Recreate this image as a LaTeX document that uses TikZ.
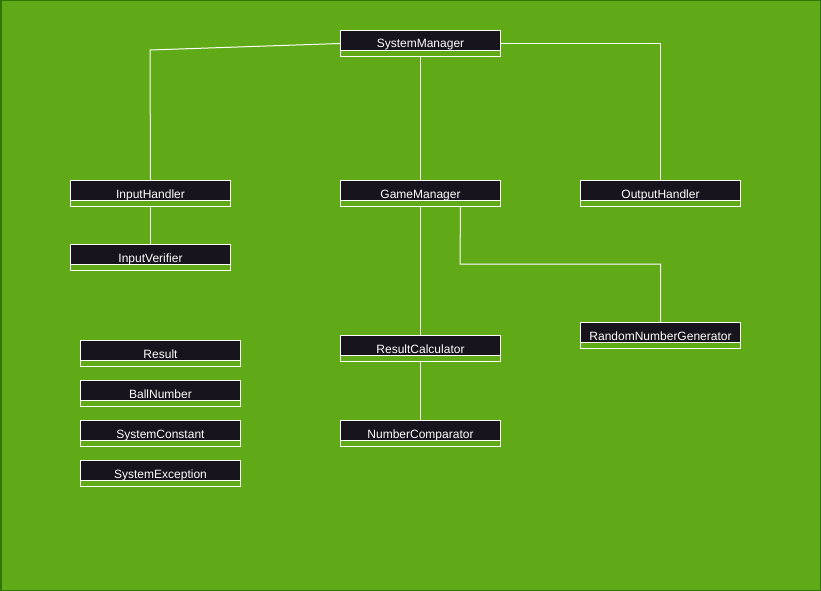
\documentclass[tikz,border=0pt]{standalone}
\usepackage{fontspec}
\setmainfont{Liberation Sans}
\usepackage{tikz}
\usetikzlibrary{positioning,calc}
\definecolor{diagramgreen}{HTML}{60A917}
\definecolor{diagramedge}{HTML}{2D7600}
\definecolor{headerdark}{HTML}{18141D}

\tikzset{
  classbox/.style={rectangle, draw=white, fill=diagramgreen, line width=1pt,
    minimum width=160pt, minimum height=26pt, inner sep=0pt, anchor=north west,
    text=white, font=\fontsize{12}{14}\selectfont, text height=9pt, text depth=0pt,
    path picture={
      \fill[headerdark] (path picture bounding box.north west) rectangle ([yshift=6pt]path picture bounding box.south east);
      \draw[white, line width=1pt] ([yshift=6pt]path picture bounding box.south west) -- ([yshift=6pt]path picture bounding box.south east);
    }},
  link/.style={draw=white, line width=1pt}
}

\begin{document}
\begin{tikzpicture}[x=1pt, y=-1pt]
  \useasboundingbox (0,0) rectangle (821,591);
  \fill[diagramgreen] (0,0) rectangle (821,591);
  \draw[diagramedge, line width=1.5pt] (0.75,0.75) rectangle (820.25,590.25);

  % class boxes
  \node[classbox] (sysman) at (340,30) {SystemManager};
  \node[classbox] (inhandler) at (70,180) {InputHandler};
  \node[classbox] (inverifier) at (70,244) {InputVerifier};
  \node[classbox] (gameman) at (340,180) {GameManager};
  \node[classbox] (outhandler) at (580,180) {OutputHandler};
  \node[classbox] (rndgen) at (580,322) {RandomNumberGenerator};
  \node[classbox] (rescalc) at (340,335) {ResultCalculator};
  \node[classbox] (numcomp) at (340,420) {NumberComparator};

  \node[classbox] (result) at (80,340) {Result};
  \node[classbox] (ballnum) at (80,380) {BallNumber};
  \node[classbox] (sysconst) at (80,420) {SystemConstant};
  \node[classbox] (sysexc) at (80,460) {SystemException};

  % links
  \coordinate (inbend) at (150,50);
  \coordinate (rndbend) at (460,264);
  \draw[link] (sysman.west) -- (inbend) -- (inhandler.north);
  \draw[link] (sysman.east) -| (outhandler.north);
  \draw[link] (sysman.south) -- (gameman.north);
  \draw[link] (inhandler.south) -- (inverifier.north);
  \draw[link] (gameman.south) -- (rescalc.north);
  \draw[link] ([xshift=40pt]gameman.south) -- (rndbend) -| (rndgen.north);
  \draw[link] (rescalc.south) -- (numcomp.north);
\end{tikzpicture}
\end{document}
